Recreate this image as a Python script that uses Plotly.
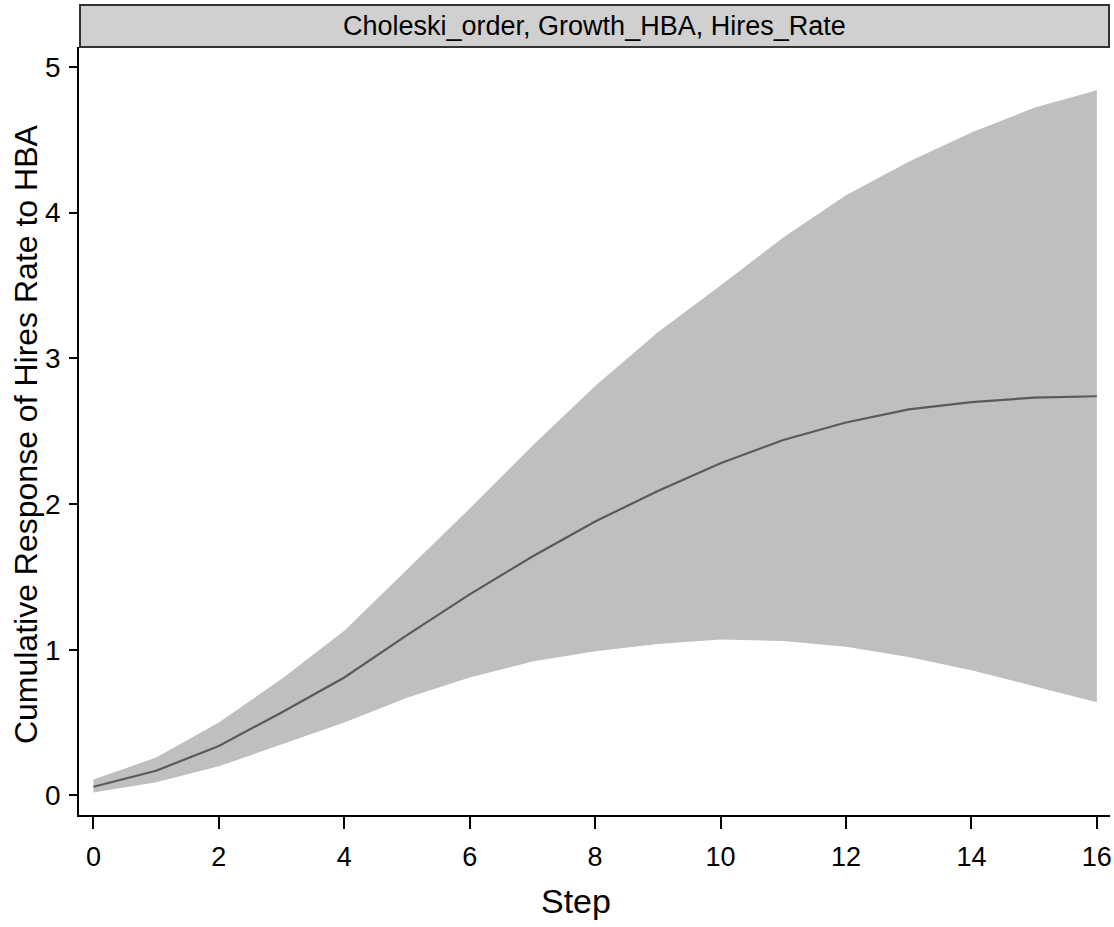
import plotly.graph_objects as go

steps = list(range(17))
irf = [0.06, 0.17, 0.34, 0.57, 0.81, 1.10, 1.38, 1.64, 1.88, 2.09, 2.28, 2.44, 2.56, 2.65, 2.70, 2.73, 2.74]
upper = [0.11, 0.26, 0.50, 0.80, 1.13, 1.55, 1.97, 2.40, 2.81, 3.18, 3.50, 3.83, 4.12, 4.35, 4.55, 4.72, 4.84]
lower = [0.02, 0.09, 0.20, 0.35, 0.50, 0.67, 0.81, 0.92, 0.99, 1.04, 1.07, 1.06, 1.02, 0.95, 0.86, 0.75, 0.64]

x_ticks = [0, 2, 4, 6, 8, 10, 12, 14, 16]
y_ticks = [0, 1, 2, 3, 4, 5]
panel_title = "Choleski_order, Growth_HBA, Hires_Rate"
x_title = "Step"
y_title = "Cumulative Response of Hires Rate to HBA"

narrow = "Liberation Sans Narrow, Arial Narrow, Liberation Sans, Arial, sans-serif"
regular = "Liberation Sans, Arial, sans-serif"

fig = go.Figure()
fig.add_trace(go.Scatter(x=steps, y=upper, mode="lines", line=dict(width=0),
                         hoverinfo="skip", showlegend=False))
fig.add_trace(go.Scatter(x=steps, y=lower, mode="lines", line=dict(width=0),
                         fill="tonexty", fillcolor="#bfbfbf", showlegend=False))
fig.add_trace(go.Scatter(x=steps, y=irf, mode="lines",
                         line=dict(color="#5a5a5a", width=2.2), showlegend=False))

W, H = 1114, 927
ml, mr, mt, mb = 79, 2, 47, 112
pw = W - ml - mr
ph = H - mt - mb

fig.update_layout(
    width=W, height=H,
    margin=dict(l=ml, r=mr, t=mt, b=mb),
    paper_bgcolor="white", plot_bgcolor="white",
    xaxis=dict(range=[-0.23, 16.21], tickvals=x_ticks, ticks="outside", ticklen=12,
               tickwidth=1.5, tickcolor="black", showline=True, linecolor="black",
               linewidth=1.5, showgrid=False, zeroline=False, ticklabelstandoff=5,
               ticklabeloverflow="allow",
               tickfont=dict(family=narrow, size=27, color="black")),
    yaxis=dict(range=[-0.134, 5.137], tickvals=y_ticks, ticks="outside", ticklen=8,
               tickwidth=1.5, tickcolor="black", showline=True, linecolor="black",
               linewidth=1.5, showgrid=False, zeroline=False, ticklabelstandoff=3,
               tickfont=dict(family=narrow, size=28, color="black")),
)

# axis titles
fig.add_annotation(text=x_title, xref="paper", yref="paper",
                   x=(577 - ml) / pw, y=-(901 - (H - mb)) / ph, showarrow=False,
                   xanchor="center", yanchor="middle",
                   font=dict(family=narrow, size=34, color="black"))
fig.add_annotation(text=y_title, xref="paper", yref="paper", textangle=-90,
                   x=-(ml - 26) / pw, y=(H - mb - 434) / ph, showarrow=False,
                   xanchor="center", yanchor="middle",
                   font=dict(family=regular, size=32, color="black"))

# strip header
fig.add_shape(type="rect", xref="paper", yref="paper",
              x0=(80 - ml) / pw, x1=(1111 - ml) / pw,
              y0=1.0, y1=1 + 42 / ph,
              fillcolor="#d0d0d0", line=dict(color="#333333", width=2), layer="above")
fig.add_annotation(text=panel_title, xref="paper", yref="paper",
                   x=(595 - ml) / pw, y=1 + 21 / ph, showarrow=False,
                   xanchor="center", yanchor="middle",
                   font=dict(family=narrow, size=27, color="black"))

fig.write_html("out.html")
